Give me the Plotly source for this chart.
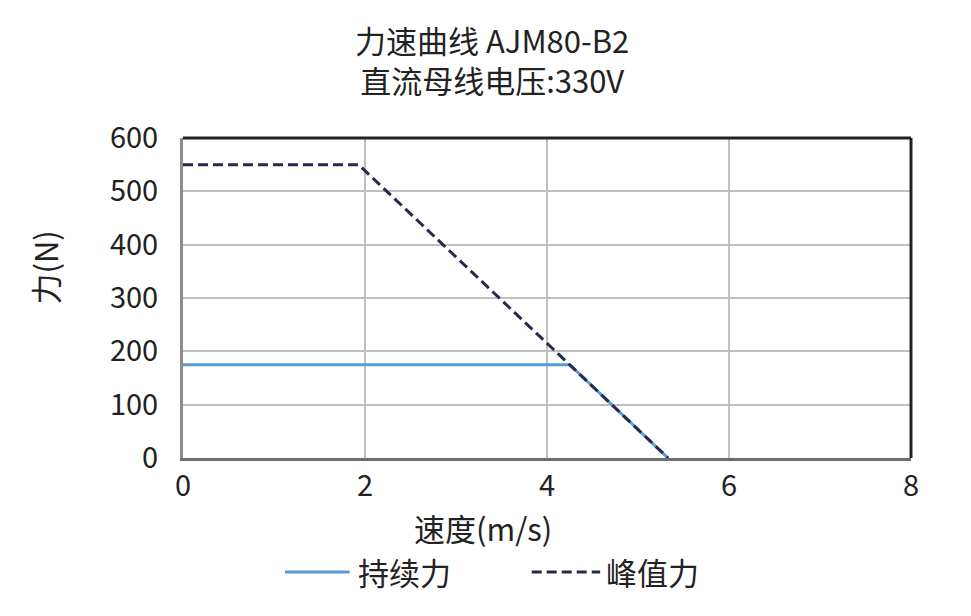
import plotly.graph_objects as go

# 速度(m/s) / 力(N)
cont_speed = [0, 4.25, 5.33]
cont_force = [175, 175, 0]
peak_speed = [0, 1.93, 5.33]
peak_force = [550, 550, 0]

x_ticks = [0, 2, 4, 6, 8]
y_ticks = [0, 100, 200, 300, 400, 500, 600]

FONT = "Noto Sans CJK SC"
CONT_COLOR = "#5b9bd5"
PEAK_COLOR = "#262a4f"
PEAK_DASH = "10px,5px"

fig = go.Figure()
fig.add_trace(go.Scatter(x=cont_speed, y=cont_force, mode="lines", name="持续力",
                         line=dict(color=CONT_COLOR, width=3)))
fig.add_trace(go.Scatter(x=peak_speed, y=peak_force, mode="lines", name="峰值力",
                         line=dict(color=PEAK_COLOR, width=3, dash=PEAK_DASH)))

# 页面 body 有 8px 边距，所以图比窗口小一点
fig.update_layout(
    width=955, height=600,
    margin=dict(l=175, r=52, t=130, b=150),
    paper_bgcolor="white", plot_bgcolor="white",
    font=dict(family=FONT, size=26, color="#222222"),
    title=dict(text="力速曲线 AJM80-B2<br>直流母线电压:330V", x=0.507, xanchor="center",
               y=0.925, yanchor="top", font=dict(size=31)),
    showlegend=False,
)
fig.update_xaxes(range=[0, 8], tickvals=x_ticks, showgrid=True, gridcolor="#bfbfbf", gridwidth=1.5,
                 showline=True, linecolor="#6e6e6e", linewidth=3, zeroline=False,
                 ticks="", tickfont=dict(size=29))
fig.update_yaxes(range=[0, 600], tickvals=y_ticks, showgrid=True, gridcolor="#bfbfbf", gridwidth=1.5,
                 showline=True, linecolor="#8c8c8c", linewidth=3, zeroline=False,
                 ticks="", ticklabelstandoff=16, tickfont=dict(size=29))

# 轴标题不在正中，用注释放
fig.add_annotation(xref="paper", yref="paper", x=0.412, y=-0.216, text="速度(m/s)", showarrow=False,
                   xanchor="center", yanchor="middle", font=dict(size=31))
fig.add_annotation(xref="paper", yref="paper", x=-0.19, y=0.594, text="力(N)", showarrow=False,
                   textangle=-90, xanchor="center", yanchor="middle", font=dict(size=31))

# 上边框和右边框颜色较深
fig.add_shape(type="line", xref="x domain", yref="y domain", x0=0, x1=1, y0=1, y1=1,
              line=dict(color="#222222", width=3))
fig.add_shape(type="line", xref="x domain", yref="y domain", x0=1, x1=1, y0=0, y1=1,
              line=dict(color="#222222", width=3))

# 图例（线段比默认的长）
legend_y = -0.356
fig.add_shape(type="line", xref="paper", yref="paper", x0=0.140, x1=0.229, y0=legend_y, y1=legend_y,
              line=dict(color=CONT_COLOR, width=3))
fig.add_annotation(xref="paper", yref="paper", x=0.237, y=legend_y, text="持续力", showarrow=False,
                   xanchor="left", yanchor="middle", font=dict(size=31))
fig.add_shape(type="line", xref="paper", yref="paper", x0=0.479, x1=0.573, y0=legend_y, y1=legend_y,
              line=dict(color=PEAK_COLOR, width=3, dash=PEAK_DASH))
fig.add_annotation(xref="paper", yref="paper", x=0.578, y=legend_y, text="峰值力", showarrow=False,
                   xanchor="left", yanchor="middle", font=dict(size=31))

fig.write_html("out.html")
